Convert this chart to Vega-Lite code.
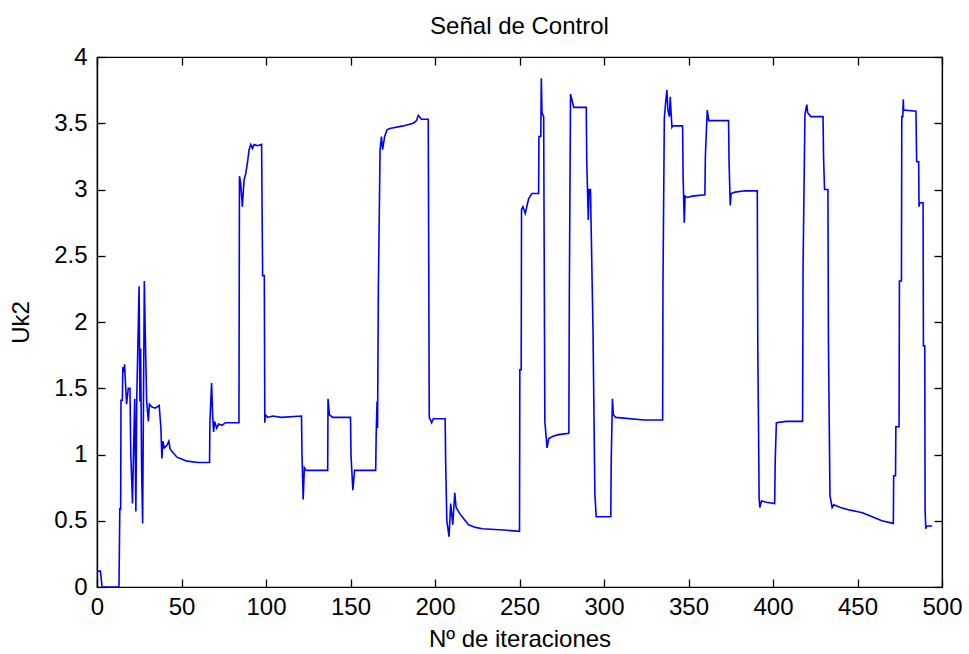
{
  "$schema": "https://vega.github.io/schema/vega-lite/v6.json",
  "width": 845,
  "height": 530,
  "autosize": "none",
  "padding": {"left": 97, "top": 57, "right": 27, "bottom": 67},
  "background": "white",
  "title": {"text": "Señal de Control", "font": "Liberation Sans", "fontSize": 24, "fontWeight": "normal", "color": "black", "offset": 6},
  "config": {
    "view": {"stroke": "black", "strokeWidth": 1.2},
    "axis": {"grid": false, "domainColor": "black", "labelColor": "black", "titleColor": "black", "labelFont": "Liberation Sans", "titleFont": "Liberation Sans", "labelFontSize": 24, "titleFontSize": 24, "titleFontWeight": "normal", "domainWidth": 1.2, "labelFlush": false, "labelOverlap": false, "format": "~r"}
  },
  "data": {"values": [
    {"x":0,"y":0.12},{"x":2,"y":0.12},{"x":3,"y":0},{"x":13,"y":0},{"x":13.5,"y":0.59},{"x":14,"y":0.59},{"x":14.2,"y":1.41},{"x":15,"y":1.41},{"x":15.3,"y":1.66},{"x":16,"y":1.62},{"x":16.3,"y":1.68},{"x":17,"y":1.5},{"x":17.5,"y":1.38},{"x":18.5,"y":1.5},{"x":19.5,"y":1.5},{"x":20,"y":1.0},{"x":21,"y":0.63},{"x":21.5,"y":0.95},{"x":22.3,"y":1.42},{"x":23,"y":0.57},{"x":23.5,"y":1.4},{"x":24.9,"y":2.27},{"x":25.4,"y":1.4},{"x":25.8,"y":1.8},{"x":26.4,"y":0.9},{"x":27,"y":0.48},{"x":28,"y":2.31},{"x":28.6,"y":1.88},{"x":29.4,"y":1.4},{"x":30.4,"y":1.25},{"x":31,"y":1.38},{"x":32.4,"y":1.36},{"x":34.4,"y":1.35},{"x":36.8,"y":1.37},{"x":37.8,"y":1.2},{"x":38.4,"y":0.97},{"x":39,"y":1.1},{"x":39.8,"y":1.05},{"x":41.4,"y":1.07},{"x":42.5,"y":1.1},{"x":43.3,"y":1.04},{"x":45.3,"y":1.01},{"x":47.3,"y":0.98},{"x":49.3,"y":0.97},{"x":53.3,"y":0.95},{"x":60,"y":0.94},{"x":66.6,"y":0.94},{"x":66.8,"y":1.24},{"x":67.8,"y":1.54},{"x":68.4,"y":1.3},{"x":69,"y":1.17},{"x":69.6,"y":1.25},{"x":70.8,"y":1.2},{"x":72,"y":1.23},{"x":74,"y":1.22},{"x":76,"y":1.24},{"x":84,"y":1.24},{"x":84.3,"y":3.1},{"x":85,"y":3.05},{"x":86,"y":2.87},{"x":87,"y":3.07},{"x":88,"y":3.12},{"x":89,"y":3.2},{"x":90,"y":3.3},{"x":91,"y":3.34},{"x":92,"y":3.31},{"x":93,"y":3.34},{"x":95,"y":3.33},{"x":97.4,"y":3.34},{"x":98,"y":2.35},{"x":99,"y":2.35},{"x":99.3,"y":1.24},{"x":99.6,"y":1.3},{"x":101,"y":1.28},{"x":104,"y":1.29},{"x":109,"y":1.28},{"x":121,"y":1.29},{"x":121.3,"y":1.0},{"x":122,"y":0.66},{"x":122.7,"y":0.9},{"x":123.7,"y":0.88},{"x":125.6,"y":0.88},{"x":136.5,"y":0.88},{"x":136.7,"y":1.42},{"x":137.5,"y":1.3},{"x":139.5,"y":1.28},{"x":150,"y":1.28},{"x":150.3,"y":0.99},{"x":151.4,"y":0.73},{"x":152.4,"y":0.88},{"x":164.9,"y":0.88},{"x":165.2,"y":1.15},{"x":165.7,"y":1.4},{"x":166,"y":1.2},{"x":166.5,"y":2.28},{"x":167.5,"y":3.3},{"x":168.3,"y":3.4},{"x":169,"y":3.3},{"x":170.2,"y":3.4},{"x":171.6,"y":3.45},{"x":173.2,"y":3.46},{"x":181.2,"y":3.48},{"x":187.1,"y":3.5},{"x":189.1,"y":3.52},{"x":190.1,"y":3.56},{"x":192,"y":3.53},{"x":196,"y":3.53},{"x":196.3,"y":2.41},{"x":196.6,"y":1.28},{"x":198,"y":1.24},{"x":199,"y":1.27},{"x":206,"y":1.27},{"x":206.3,"y":0.95},{"x":207,"y":0.5},{"x":208.3,"y":0.38},{"x":209.3,"y":0.63},{"x":210.5,"y":0.47},{"x":211.7,"y":0.71},{"x":212.5,"y":0.6},{"x":214.9,"y":0.55},{"x":219.8,"y":0.47},{"x":224,"y":0.45},{"x":228,"y":0.44},{"x":240.5,"y":0.43},{"x":250,"y":0.42},{"x":250.2,"y":1.64},{"x":251,"y":1.64},{"x":251.2,"y":2.85},{"x":252,"y":2.87},{"x":253.4,"y":2.82},{"x":255.4,"y":2.93},{"x":257.3,"y":2.97},{"x":261.3,"y":2.97},{"x":261.5,"y":3.4},{"x":262.6,"y":3.4},{"x":262.9,"y":3.84},{"x":263.3,"y":3.58},{"x":264.3,"y":3.55},{"x":265,"y":1.25},{"x":266.3,"y":1.05},{"x":267.3,"y":1.12},{"x":270.2,"y":1.14},{"x":273.2,"y":1.15},{"x":279.2,"y":1.16},{"x":279.5,"y":2.25},{"x":280.2,"y":3.72},{"x":282.1,"y":3.62},{"x":289.5,"y":3.62},{"x":289.8,"y":3.21},{"x":290.7,"y":2.77},{"x":291.2,"y":3.0},{"x":292,"y":3.0},{"x":293.5,"y":1.93},{"x":294.6,"y":0.7},{"x":295.4,"y":0.53},{"x":299,"y":0.53},{"x":304,"y":0.53},{"x":304.3,"y":0.98},{"x":305,"y":1.42},{"x":305.5,"y":1.3},{"x":307,"y":1.28},{"x":323.8,"y":1.26},{"x":334.7,"y":1.26},{"x":334.9,"y":2.29},{"x":335.7,"y":3.54},{"x":336.5,"y":3.66},{"x":337.2,"y":3.75},{"x":337.8,"y":3.6},{"x":338.7,"y":3.55},{"x":339.2,"y":3.7},{"x":339.7,"y":3.58},{"x":340.2,"y":3.47},{"x":340.7,"y":3.48},{"x":346.5,"y":3.48},{"x":346.8,"y":3.1},{"x":347.5,"y":2.75},{"x":348,"y":2.95},{"x":349.4,"y":2.94},{"x":352.3,"y":2.95},{"x":359.7,"y":2.96},{"x":360,"y":3.26},{"x":361.1,"y":3.6},{"x":362,"y":3.52},{"x":373.7,"y":3.52},{"x":374,"y":3.21},{"x":374.7,"y":2.88},{"x":375.2,"y":2.97},{"x":377.6,"y":2.98},{"x":383.5,"y":2.99},{"x":390.7,"y":2.99},{"x":391,"y":1.81},{"x":391.8,"y":0.67},{"x":392.2,"y":0.6},{"x":393.2,"y":0.65},{"x":396.1,"y":0.64},{"x":401,"y":0.63},{"x":401.3,"y":0.95},{"x":402,"y":1.24},{"x":407.8,"y":1.25},{"x":417.5,"y":1.25},{"x":417.8,"y":2.43},{"x":418.9,"y":3.57},{"x":420,"y":3.64},{"x":420.5,"y":3.58},{"x":422.4,"y":3.55},{"x":429.6,"y":3.55},{"x":429.9,"y":3.25},{"x":430.5,"y":3.0},{"x":432.5,"y":3.0},{"x":432.8,"y":1.86},{"x":433.7,"y":0.69},{"x":435,"y":0.6},{"x":436,"y":0.62},{"x":439.9,"y":0.6},{"x":445.7,"y":0.58},{"x":449.6,"y":0.57},{"x":452.9,"y":0.56},{"x":458.7,"y":0.53},{"x":464.4,"y":0.5},{"x":471.2,"y":0.48},{"x":471.4,"y":0.84},{"x":472.5,"y":0.84},{"x":472.7,"y":1.21},{"x":474.6,"y":1.21},{"x":474.8,"y":2.31},{"x":476,"y":2.31},{"x":476.2,"y":3.55},{"x":476.8,"y":3.55},{"x":477.1,"y":3.68},{"x":477.3,"y":3.6},{"x":484.6,"y":3.59},{"x":485,"y":3.21},{"x":486.2,"y":3.21},{"x":486.4,"y":2.87},{"x":486.8,"y":2.9},{"x":488.8,"y":2.9},{"x":489,"y":1.82},{"x":489.8,"y":1.82},{"x":490,"y":0.58},{"x":490.4,"y":0.44},{"x":491,"y":0.46},{"x":494.2,"y":0.46}
  ]},
  "layer": [
    {
      "mark": {"type": "line", "color": "#0000ff", "strokeWidth": 1.6},
      "encoding": {
        "x": {"field": "x", "type": "quantitative", "scale": {"domain": [0, 500], "nice": false},
              "axis": {"orient": "bottom", "tickCount": 10, "tickSize": 0, "labelPadding": 8, "title": "Nº de iteraciones", "titlePadding": 8}},
        "y": {"field": "y", "type": "quantitative", "scale": {"domain": [0, 4], "nice": false},
              "axis": {"orient": "left", "tickCount": 8, "tickSize": 0, "labelPadding": 10, "title": "Uk2", "titlePadding": 20}}
      }
    },
    {
      "mark": {"type": "line", "opacity": 0},
      "encoding": {
        "x": {"field": "x", "type": "quantitative", "axis": {"orient": "top", "offset": -530, "tickCount": 10, "tickSize": 8, "tickColor": "black", "tickWidth": 1.3, "labelExpr": "''", "title": null}},
        "y": {"field": "y", "type": "quantitative", "axis": {"orient": "right", "offset": -845, "tickCount": 8, "tickSize": 8, "tickColor": "black", "tickWidth": 1.3, "labelExpr": "''", "title": null}}
      }
    },
    {
      "mark": {"type": "line", "opacity": 0},
      "encoding": {
        "x": {"field": "x", "type": "quantitative", "axis": {"orient": "bottom", "offset": -530, "tickCount": 10, "tickSize": 8, "tickColor": "black", "tickWidth": 1.3, "labelExpr": "''", "title": null}},
        "y": {"field": "y", "type": "quantitative", "axis": {"orient": "left", "offset": -845, "tickCount": 8, "tickSize": 8, "tickColor": "black", "tickWidth": 1.3, "labelExpr": "''", "title": null}}
      }
    }
  ],
  "resolve": {"axis": {"x": "independent", "y": "independent"}}
}
